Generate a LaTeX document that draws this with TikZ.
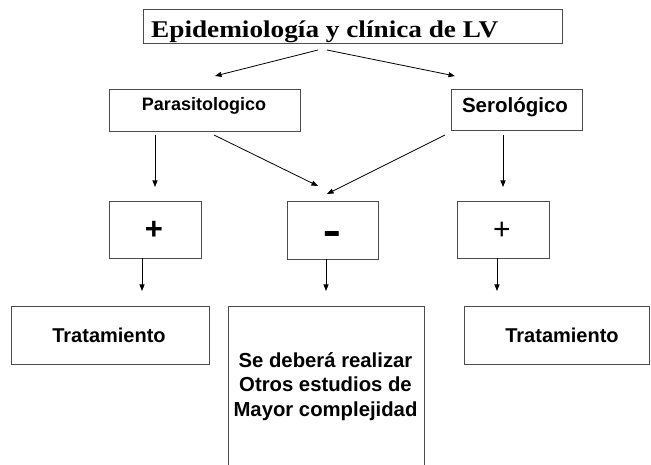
\documentclass[tikz,border=0pt]{standalone}
\usepackage{fontspec}
\setmainfont{Liberation Sans}
\newfontfamily\titlefont{Liberation Serif}
\usetikzlibrary{arrows.meta}
\tikzset{
  box/.style={draw=black!70, line width=0.9pt, rectangle, inner sep=0pt, anchor=north west},
  txt/.style={anchor=base, inner sep=0pt, text=black},
  conn/.style={draw=black, line width=0.8pt, -{Triangle[length=6.5pt,width=5pt]}}
}
\begin{document}
\begin{tikzpicture}[x=1pt,y=-1pt]
\useasboundingbox (0,0) rectangle (651,465);
% boxes
\node[box, minimum width=419pt, minimum height=34pt] (title) at (143,9) {};
\node[box, minimum width=191pt, minimum height=42pt] (para) at (109,89) {};
\node[box, minimum width=131pt, minimum height=41pt] (sero) at (451,89) {};
\node[box, minimum width=92pt, minimum height=57pt] (pos1) at (109,201) {};
\node[box, minimum width=91pt, minimum height=58pt] (neg) at (287,201) {};
\node[box, minimum width=92pt, minimum height=57pt] (pos2) at (457,201) {};
\node[box, minimum width=198pt, minimum height=58pt] (trat1) at (11,306) {};
\node[box, minimum width=196pt, minimum height=165pt] (otros) at (228,306) {};
\node[box, minimum width=185pt, minimum height=58pt] (trat2) at (464,306) {};
% texts
\node[txt, anchor=base west] (titleT) at (151,38) {\resizebox{347pt}{\height}{\titlefont\bfseries\fontsize{24}{26}\selectfont Epidemiología y clínica de LV}};
\node[txt] (paraT) at (204,111) {\bfseries\fontsize{18}{20}\selectfont Parasitologico};
\node[txt] (seroT) at (515,113) {\bfseries\fontsize{20.5}{22}\selectfont Serológico};
\node[txt] (pos1T) at (154,240) {\bfseries\fontsize{31}{32}\selectfont +};
\node[txt] (negT) at (332,247.5) {\scalebox{1}[1.8]{\bfseries\fontsize{28}{30}\selectfont –}};
\node[txt] (pos2T) at (502,239.5) {\fontsize{30}{32}\selectfont +};
\node[txt] (trat1T) at (109,342) {\bfseries\fontsize{20}{22}\selectfont Tratamiento};
\node[txt] (trat2T) at (562,342) {\bfseries\fontsize{20}{22}\selectfont Tratamiento};
\node[txt] (otrosA) at (325.5,367) {\bfseries\fontsize{20.3}{22}\selectfont Se deberá realizar};
\node[txt] (otrosB) at (325.5,391.5) {\bfseries\fontsize{20.3}{22}\selectfont Otros estudios de};
\node[txt] (otrosC) at (325.5,416) {\bfseries\fontsize{20.3}{22}\selectfont Mayor complejidad};
% connector end points
\coordinate (t1) at (318,50); \coordinate (h1) at (215,76);
\coordinate (t2) at (327,50); \coordinate (h2) at (455,76);
\coordinate (t3) at (155,135); \coordinate (h3) at (155,187);
\coordinate (t4) at (214,135); \coordinate (h4) at (318,186);
\coordinate (t5) at (445,135); \coordinate (h5) at (327,194);
\coordinate (t6) at (503,135); \coordinate (h6) at (503,187);
\coordinate (t7) at (142,258); \coordinate (h7) at (142,291);
\coordinate (t8) at (326,259); \coordinate (h8) at (326,291);
\coordinate (t9) at (497,258); \coordinate (h9) at (497,291);
\draw[conn] (t1) -- (h1);
\draw[conn] (t2) -- (h2);
\draw[conn] (t3) -- (h3);
\draw[conn] (t4) -- (h4);
\draw[conn] (t5) -- (h5);
\draw[conn] (t6) -- (h6);
\draw[conn] (t7) -- (h7);
\draw[conn] (t8) -- (h8);
\draw[conn] (t9) -- (h9);
\end{tikzpicture}
\end{document}
